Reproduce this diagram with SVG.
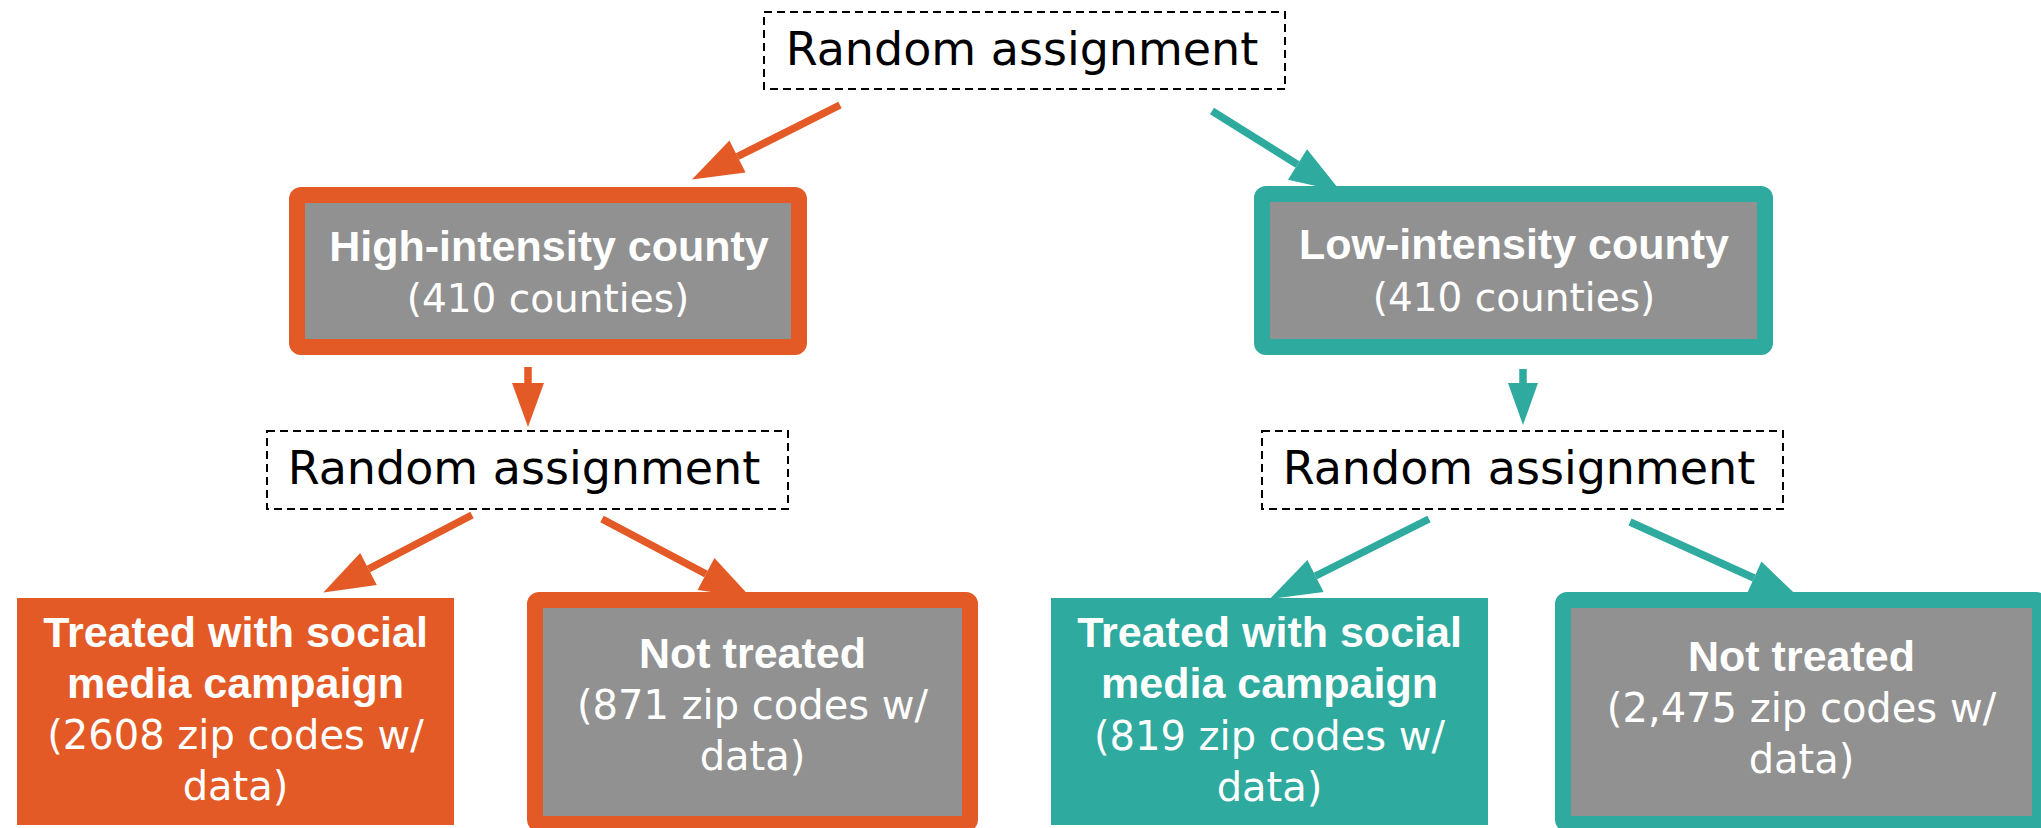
<svg xmlns="http://www.w3.org/2000/svg" width="2041" height="828" viewBox="0 0 2041 828">
<style>
.dash{fill:#ffffff;stroke:#000000;stroke-width:2;stroke-dasharray:8 5}
.ra{font-family:"DejaVu Sans",sans-serif;font-size:46px;fill:#000000;text-anchor:middle}
.b{font-family:"Liberation Sans",Arial,sans-serif;font-weight:bold;font-size:43px;fill:#ffffff;text-anchor:middle}
.r{font-family:"DejaVu Sans",sans-serif;font-size:40px;fill:#ffffff;text-anchor:middle}
.rc{font-family:"DejaVu Sans",sans-serif;font-size:39px;fill:#ffffff;text-anchor:middle}
.obox{fill:#919191;stroke:#E35A26;stroke-width:16}
.tbox{fill:#919191;stroke:#2EAA9E;stroke-width:16}
.ofill{fill:#E35A26}
.tfill{fill:#2EAA9E}
.oc{fill:none;stroke:#E35A26;stroke-width:7.5}
.tc{fill:none;stroke:#2EAA9E;stroke-width:7.5}
</style>
<defs>
<marker id="oh" markerUnits="userSpaceOnUse" markerWidth="52" markerHeight="37" refX="0" refY="18" orient="auto" overflow="visible"><path d="M0,0 L51,18 L0,36 z" fill="#E35A26"/></marker>
<marker id="th" markerUnits="userSpaceOnUse" markerWidth="52" markerHeight="37" refX="0" refY="18" orient="auto" overflow="visible"><path d="M0,0 L51,18 L0,36 z" fill="#2EAA9E"/></marker>
<marker id="ohs" markerUnits="userSpaceOnUse" markerWidth="45" markerHeight="32" refX="0" refY="16" orient="auto" overflow="visible"><path d="M0,0 L44,16 L0,32 z" fill="#E35A26"/></marker>
<marker id="ths" markerUnits="userSpaceOnUse" markerWidth="45" markerHeight="32" refX="0" refY="15" orient="auto" overflow="visible"><path d="M0,0 L42,15 L0,30 z" fill="#2EAA9E"/></marker>
</defs>
<rect width="2041" height="828" fill="#ffffff"/>
<g id="connectors">
<path class="oc" d="M840,105 L737.5,156.5" marker-end="url(#oh)"/>
<path class="tc" d="M1212,111 L1297.5,164.5" marker-end="url(#th)"/>
<path class="oc" d="M528,367 L528,383" marker-end="url(#ohs)"/>
<path class="tc" d="M1523,369 L1523,383" marker-end="url(#ths)"/>
<path class="oc" d="M472,515 L368.5,569" marker-end="url(#oh)"/>
<path class="oc" d="M602,519 L706,574" marker-end="url(#oh)"/>
<path class="tc" d="M1429,519 L1315.5,576" marker-end="url(#th)"/>
<path class="tc" d="M1630,522 L1754,578" marker-end="url(#th)"/>
</g>
<g id="random-top">
<rect class="dash" x="764" y="12" width="521" height="77"/>
<text class="ra" x="1022" y="65">Random assignment</text>
</g>
<g id="high-intensity">
<rect class="obox" x="297" y="195" width="502" height="152" rx="4"/>
<text class="b" x="549" y="261">High-intensity county</text>
<text class="rc" x="548" y="312">(410 counties)</text>
</g>
<g id="low-intensity">
<rect class="tbox" x="1262" y="194" width="503" height="153" rx="4"/>
<text class="b" x="1514" y="259">Low-intensity county</text>
<text class="rc" x="1514" y="311">(410 counties)</text>
</g>
<g id="random-left">
<rect class="dash" x="267" y="431" width="521" height="78"/>
<text class="ra" x="524" y="484">Random assignment</text>
</g>
<g id="random-right">
<rect class="dash" x="1262" y="431" width="521" height="78"/>
<text class="ra" x="1519" y="484">Random assignment</text>
</g>
<g id="high-treated">
<rect class="ofill" x="17" y="598" width="437" height="227"/>
<text class="b" x="235.5" y="647">Treated with social</text>
<text class="b" x="235.5" y="698">media campaign</text>
<text class="r" x="235.5" y="749">(2608 zip codes w/</text>
<text class="r" x="235.5" y="800">data)</text>
</g>
<g id="high-not-treated">
<rect class="obox" x="535" y="600" width="435" height="224" rx="4"/>
<text class="b" x="752.5" y="668">Not treated</text>
<text class="r" x="752.5" y="719">(871 zip codes w/</text>
<text class="r" x="752.5" y="770">data)</text>
</g>
<g id="low-treated">
<rect class="tfill" x="1051" y="598" width="437" height="227"/>
<text class="b" x="1269.5" y="647">Treated with social</text>
<text class="b" x="1269.5" y="698">media campaign</text>
<text class="r" x="1269.5" y="750">(819 zip codes w/</text>
<text class="r" x="1269.5" y="801">data)</text>
</g>
<g id="low-not-treated">
<rect class="tbox" x="1563" y="600" width="477" height="224" rx="4"/>
<text class="b" x="1801.5" y="671">Not treated</text>
<text class="r" x="1801.5" y="722">(2,475 zip codes w/</text>
<text class="r" x="1801.5" y="773">data)</text>
</g>
</svg>
